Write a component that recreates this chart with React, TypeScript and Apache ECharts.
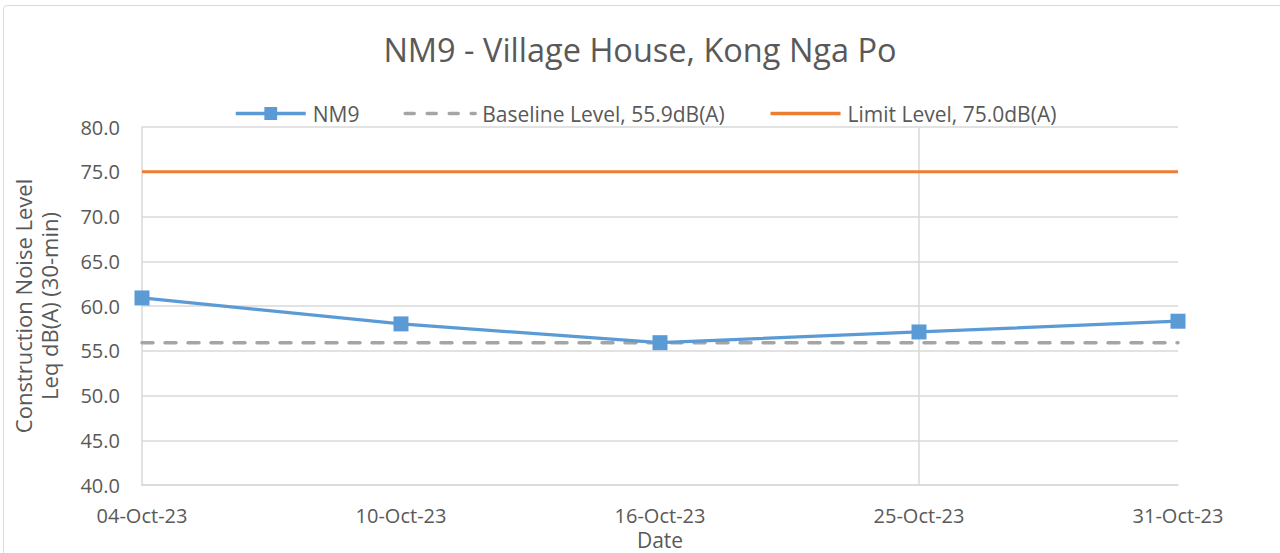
import React, { useEffect, useRef } from "react";
import * as echarts from "echarts";

const dates = ["04-Oct-23", "10-Oct-23", "16-Oct-23", "25-Oct-23", "31-Oct-23"];
const nm9 = [60.9, 58.0, 55.9, 57.1, 58.3];
const baseline = [55.9, 55.9, 55.9, 55.9, 55.9];
const limit = [75.0, 75.0, 75.0, 75.0, 75.0];
const yTicks = { min: 40, max: 80, interval: 5 };

const FONT = "'Open Sans', 'Noto Sans', sans-serif";

export default function App() {
  const ref = useRef<HTMLDivElement>(null);
  useEffect(() => {
    if (!ref.current) return;
    const chart = echarts.init(ref.current, null, { renderer: "svg" });
    chart.setOption({
      animation: false,
      backgroundColor: "transparent",
      textStyle: { fontFamily: FONT },
      title: {
        text: "NM9 - Village House, Kong Nga Po",
        left: "center",
        top: 28,
        textStyle: { fontFamily: FONT, fontSize: 32.5, fontWeight: "normal", color: "#595959" },
      },
      legend: {
        top: 98,
        left: 229,
        itemWidth: 70,
        itemHeight: 16,
        itemGap: 44,
        lineStyle: { width: 3.5 },
        textStyle: { fontFamily: FONT, fontSize: 21, color: "#595959", padding: [0, 0, 0, 2] },
        data: [
          { name: "NM9", lineStyle: { width: 3.5 } },
          { name: "Baseline Level, 55.9dB(A)", itemStyle: { opacity: 0 }, lineStyle: { width: 3.5, type: [9, 13], cap: "round" } },
          { name: "Limit Level, 75.0dB(A)", itemStyle: { opacity: 0 }, lineStyle: { width: 3.5 } },
        ],
      },
      grid: { left: 142, right: 102, top: 127, bottom: 68, outerBoundsMode: "none", containLabel: false },
      xAxis: {
        type: "category",
        data: dates,
        boundaryGap: false,
        name: "Date",
        nameLocation: "middle",
        nameGap: 36,
        nameTextStyle: { fontFamily: FONT, fontSize: 21, color: "#595959" },
        axisLine: { lineStyle: { color: "#d9d9d9", width: 1.5 } },
        axisTick: { show: false },
        axisLabel: { fontFamily: FONT, fontSize: 20, color: "#595959", margin: 20 },
        splitLine: { show: false },
      },
      yAxis: {
        type: "value",
        min: yTicks.min,
        max: yTicks.max,
        interval: yTicks.interval,
        name: "Construction Noise Level\nLeq dB(A) (30-min)",
        nameLocation: "middle",
        nameGap: 80,
        nameTextStyle: { fontFamily: FONT, fontSize: 22, color: "#595959", lineHeight: 26 },
        axisLine: { show: true, lineStyle: { color: "#d9d9d9", width: 1.5 } },
        axisTick: { show: false },
        axisLabel: {
          fontFamily: FONT,
          fontSize: 20,
          color: "#595959",
          margin: 22,
          formatter: (v: number) => v.toFixed(1),
        },
        splitLine: { lineStyle: { color: "#d9d9d9", width: 1.5 } },
      },
      series: [
        {
          name: "NM9",
          type: "line",
          data: nm9,
          color: "#5b9bd5",
          symbol: "rect",
          symbolSize: 15,
          lineStyle: { color: "#5b9bd5", width: 3.2 },
          itemStyle: { color: "#5b9bd5" },
          z: 5,
          markLine: {
            silent: true,
            symbol: "none",
            label: { show: false },
            lineStyle: { color: "#d9d9d9", width: 1.5, type: "solid" },
            data: [{ xAxis: "25-Oct-23" }],
            z: 1,
          },
        },
        {
          name: "Baseline Level, 55.9dB(A)",
          type: "line",
          data: baseline,
          color: "#a5a5a5",
          symbol: "none",
          lineStyle: { color: "#a5a5a5", width: 3.5, type: [11, 12], cap: "round" },
          z: 4,
        },
        {
          name: "Limit Level, 75.0dB(A)",
          type: "line",
          data: limit,
          color: "#ed7d31",
          symbol: "none",
          lineStyle: { color: "#ed7d31", width: 3.2 },
          z: 4,
        },
      ],
    });
    return () => chart.dispose();
  }, []);
  return (
    <div
      style={{
        position: "absolute",
        left: 0,
        top: 0,
        width: 1280,
        height: 553,
        overflow: "hidden",
        background: "#ffffff",
      }}
    >
      <div
        style={{
          position: "absolute",
          left: 3,
          top: 5,
          width: 1290,
          height: 560,
          border: "1px solid #d9d9d9",
          borderRadius: 4,
          boxSizing: "border-box",
        }}
      />
      <div ref={ref} style={{ position: "absolute", left: 0, top: 0, width: 1280, height: 553 }} />
    </div>
  );
}
